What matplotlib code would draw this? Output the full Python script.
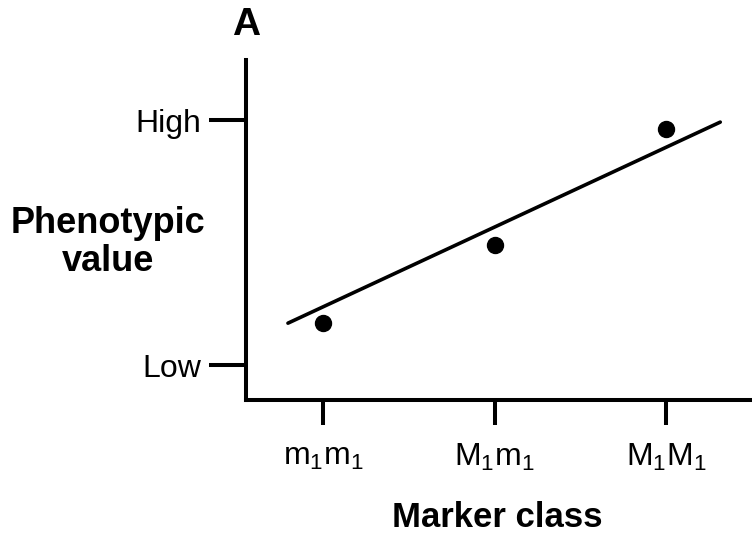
import matplotlib
matplotlib.use("Agg")
import matplotlib.pyplot as plt

plt.rcParams["font.family"] = ["Liberation Sans", "DejaVu Sans"]
plt.rcParams["mathtext.fontset"] = "custom"
plt.rcParams["mathtext.rm"] = "Liberation Sans"
plt.rcParams["mathtext.it"] = "Liberation Sans"

# Marker classes and mean phenotypic values (Low = 0, High = 1)
classes = [r"m$_\mathregular{1}$m$_\mathregular{1}$",
           r"M$_\mathregular{1}$m$_\mathregular{1}$",
           r"M$_\mathregular{1}$M$_\mathregular{1}$"]
class_pos = [1, 2, 3]
pheno = [0.171, 0.49, 0.963]

# Fitted line end points
line_x = [0.796, 3.315]
line_y = [0.171, 0.992]

y_ticks = [0, 1]
y_labels = ["Low", "High"]

fig = plt.figure(figsize=(7.52, 5.37), dpi=100)
ax = fig.add_axes([0.327, 0.255, 0.673, 0.633])

ax.plot(line_x, line_y, color="black", lw=2.6, solid_capstyle="round")
ax.plot(class_pos, pheno, "o", color="black", ms=11.5)

ax.set_xlim(0.551, 3.50)
ax.set_ylim(-0.143, 1.245)

ax.spines["top"].set_visible(False)
ax.spines["right"].set_visible(False)
for s in ["left", "bottom"]:
    ax.spines[s].set_linewidth(2.9)

ax.set_xticks(class_pos)
ax.set_xticklabels(classes, fontsize=23)
ax.set_yticks(y_ticks)
ax.set_yticklabels(y_labels, fontsize=23)
ax.tick_params(axis="x", length=18, width=2.9, pad=12)
ax.tick_params(axis="y", length=27, width=2.9, pad=5)

fig.text(0.144, 0.548, "Phenotypic\nvalue", ha="center", va="center",
         fontsize=26, fontweight="bold", linespacing=1.12)
fig.text(0.661, 0.037, "Marker class", ha="center", va="center",
         fontsize=25, fontweight="bold")
fig.text(0.327, 0.953, "A", ha="center", va="center",
         fontsize=28, fontweight="bold")

fig.savefig("out.png", dpi=100)
